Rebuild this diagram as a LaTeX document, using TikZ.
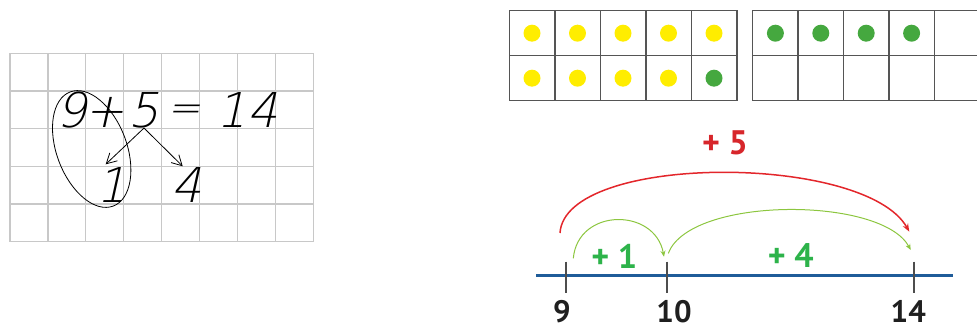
\documentclass[tikz,border=0pt]{standalone}
\usepackage{fontspec}
\usepackage{tikz}
\usetikzlibrary{arrows.meta,calc}
\newfontfamily\handfont[FakeSlant=0.22]{DejaVu Sans ExtraLight}
\newfontfamily\numfont{PT Sans}
\definecolor{gridgray}{HTML}{C8C8C8}
\definecolor{framegray}{HTML}{555555}
\definecolor{dotyellow}{HTML}{FFED00}
\definecolor{dotgreen}{HTML}{45A83F}
\definecolor{lineblue}{HTML}{1F5C99}
\definecolor{tickgray}{HTML}{4D4D4D}
\definecolor{jumpred}{HTML}{E3262B}
\definecolor{labelred}{HTML}{D7262B}
\definecolor{jumpgreen}{HTML}{8CC63F}
\definecolor{labelgreen}{HTML}{2DB34A}
\tikzstyle{gridline} = [draw=gridgray, line width=1.2pt]
\tikzstyle{hand} = [inner sep=0pt, font=\handfont\fontsize{48}{48}\selectfont]
\tikzstyle{split} = [-{Straight Barb[length=10pt,width=11pt]}, line width=0.8pt]
\tikzstyle{cell} = [draw=framegray, line width=1.4pt]
\tikzstyle{dot} = [circle, inner sep=0pt, minimum size=17pt]
\tikzstyle{tick} = [draw=tickgray, line width=2pt]
\tikzstyle{numlabel} = [inner sep=0pt, anchor=north, text=black!88,
    font=\numfont\bfseries\fontsize{31}{31}\selectfont]
\tikzstyle{jumplabel} = [inner sep=0pt, font=\numfont\bfseries\fontsize{34}{34}\selectfont]
\tikzstyle{jump} = [-{Stealth[length=8pt,width=6pt]}]

\begin{document}
\begin{tikzpicture}[x=1pt, y=-1pt]
\useasboundingbox (0,0) rectangle (977,328);

% squared paper
\foreach \i in {0,...,8}
  \draw[gridline] ({10+37.9*\i},53.3) -- ({10+37.9*\i},241.7);
\foreach \j in {0,...,5}
  \draw[gridline] (10,{53.3+37.7*\j}) -- (313.3,{53.3+37.7*\j});

\node[hand] (d9) at (71.7,110) {9};
\node[hand] (plus) at (105,112) {+};
\node[hand] (d5) at (144,110) {5};
\node[hand, font=\handfont\fontsize{40}{40}\selectfont] (eq) at (184,113) {=};
\node[hand] (t1) at (231.7,110) {1};
\node[hand] (t4) at (263,110) {4};
\node[hand] (p1) at (111.7,185) {1};
\node[hand] (p4) at (186.7,185) {4};

\draw[split] (d5.south) -- ($(p1.north)+(-6,-3)$);
\draw[split] (d5.south) -- ($(p4.north)+(-4,-1)$);
\draw[line width=0.8pt, rotate around={-69.3:(91.7,149)}] (91.7,149) ellipse [x radius=61, y radius=35];

% ten frames
\foreach \i in {0,...,4}
  \foreach \j in {0,1}
    \draw[cell] ({509.3+45.5*\i},{10.7+45*\j}) rectangle ({509.3+45.5*(\i+1)},{10.7+45*(\j+1)});
\foreach \i in {0,...,5}
  \foreach \j in {0,1}
    \draw[cell] ({752.7+45.4*\i},{10.7+45*\j}) rectangle ({752.7+45.4*(\i+1)},{10.7+45*(\j+1)});

\foreach \i in {0,...,4}
  \node[dot, fill=dotyellow] (a\i) at ({532+45.5*\i},33.2) {};
\foreach \i in {0,...,3}
  \node[dot, fill=dotyellow] (b\i) at ({532+45.5*\i},78.2) {};
\node[dot, fill=dotgreen] (b4) at (714,78.2) {};
\foreach \i in {0,...,3}
  \node[dot, fill=dotgreen] (c\i) at ({775.4+45.4*\i},33.2) {};

% number line
\coordinate (left) at (536,275.7);
\coordinate (right) at (952.7,275.7);
\draw[lineblue, line width=2.6pt] (left) -- (right);

\coordinate (m9) at (566,275.7);
\coordinate (m10) at (667,275.7);
\coordinate (m14) at (914.3,275.7);
\foreach \m in {m9,m10,m14}
  \draw[tick] ($(\m)+(0,-14)$) -- ($(\m)+(0,17)$);

\node[numlabel] (l9) at (562,300) {9};
\node[numlabel] (l10) at (674,300) {10};
\node[numlabel] (l14) at (908.3,300) {14};

\coordinate (r0) at (560,233);
\coordinate (r1) at (909.3,231.7);
\coordinate (g0) at (573.3,258.3);
\coordinate (g1) at (664,256.7);
\coordinate (h0) at (668.3,253.3);
\coordinate (h1) at (910.7,250);

\draw[jump, jumpred, line width=1.5pt] (r0) .. controls (565,153) and (865,153) .. (r1);
\draw[jump, jumpgreen, line width=1pt, -{Stealth[length=6pt,width=5pt]}] (g0) .. controls (578,207.5) and (655,207.5) .. (g1);
\draw[jump, jumpgreen, line width=1pt, -{Stealth[length=6pt,width=5pt]}] (h0) .. controls (690,196) and (882,196) .. (h1);

\node[jumplabel, text=labelred] (j5) at (725,143.3) {+ 5};
\node[jumplabel, text=labelgreen] (j1) at (614.2,256) {+ 1};
\node[jumplabel, text=labelgreen] (j4) at (790.8,256) {+ 4};
\end{tikzpicture}
\end{document}
